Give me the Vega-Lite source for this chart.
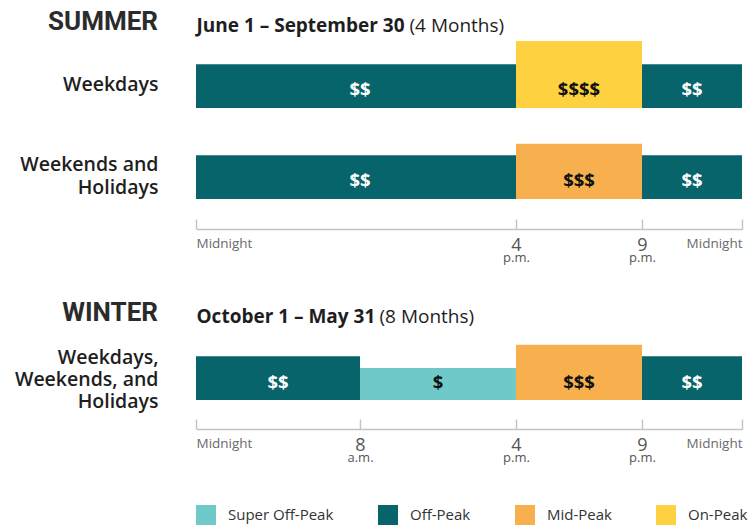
{
  "$schema": "https://vega.github.io/schema/vega-lite/v6.json",
  "background": "white",
  "padding": {"left": 14, "top": 9, "right": 5, "bottom": 0},
  "config": {
    "view": {"stroke": null},
    "font": "Open Sans",
    "axis": {"labelFont": "Open Sans", "titleFont": "Open Sans"},
    "legend": {"labelFont": "Open Sans"},
    "text": {"font": "Open Sans"}
  },
  "datasets": {
    "summerWeekdays": [
      {"period": "Off-Peak", "start": 0, "end": 16, "level": 2, "price": "$$"},
      {"period": "On-Peak", "start": 16, "end": 21, "level": 4, "price": "$$$$"},
      {"period": "Off-Peak", "start": 21, "end": 24, "level": 2, "price": "$$"}
    ],
    "summerWeekends": [
      {"period": "Off-Peak", "start": 0, "end": 16, "level": 2, "price": "$$"},
      {"period": "Mid-Peak", "start": 16, "end": 21, "level": 3, "price": "$$$"},
      {"period": "Off-Peak", "start": 21, "end": 24, "level": 2, "price": "$$"}
    ],
    "winter": [
      {"period": "Off-Peak", "start": 0, "end": 8, "level": 2, "price": "$$"},
      {"period": "Super Off-Peak", "start": 8, "end": 16, "level": 1, "price": "$"},
      {"period": "Mid-Peak", "start": 16, "end": 21, "level": 3, "price": "$$$"},
      {"period": "Off-Peak", "start": 21, "end": 24, "level": 2, "price": "$$"}
    ]
  },
  "spacing": 24,
  "bounds": "flush",
  "resolve": {"scale": {"x": "independent", "y": "independent", "color": "shared"}, "legend": {"color": "independent"}},
  "vconcat": [
    {
      "width": 546, "height": 67,
      "title": {"text": "SUMMER", "anchor": "start", "frame": "group", "align": "right", "dx": -38, "offset": -19, "font": "Roboto", "fontSize": 26, "fontWeight": "bold", "color": "#2b2b2b"},
      "data": {"name": "summerWeekdays"},
      "transform": [{"calculate": "(datum.start + datum.end) / 2", "as": "mid"}],
      "layer": [
        {
          "mark": {"type": "rect"},
          "encoding": {
            "x": {"field": "start", "type": "quantitative",
              "scale": {"type": "linear", "domain": [0, 8, 16, 21, 24], "range": [0, 164, 320, 446, 546], "nice": false, "zero": false},
              "axis": {"orient": "top", "values": [0], "labelExpr": "'June 1 – September 30'", "labelAlign": "left", "labelBaseline": "alphabetic", "labelFontSize": 19, "labelFontWeight": "bold", "labelColor": "#1e1e1e", "labelPadding": 10, "labelLimit": 600, "labelFlush": false, "labelOverlap": false, "domain": false, "ticks": false, "grid": false,
                "title": "(4 Months)", "titleFontSize": 19, "titleFontWeight": "normal", "titleColor": "#1e1e1e", "titleX": 213, "titleY": -10, "titleAlign": "left", "titleBaseline": "alphabetic", "titleAngle": 0}},
            "x2": {"field": "end"},
            "y": {"field": "level", "type": "quantitative",
              "scale": {"type": "linear", "domain": [0, 1, 4], "range": [67, 35, 0], "nice": false, "zero": false},
              "axis": {"orient": "left", "domain": false, "ticks": false, "labels": false, "grid": false, "title": "Weekdays", "titleAngle": 0, "titleAlign": "right", "titleBaseline": "middle", "titleX": -38, "titleY": 43.5, "titleFontSize": 19.5, "titleFontWeight": 600, "titleColor": "#1e1e1e", "titleLineHeight": 23}},
            "y2": {"datum": 0},
            "color": {"field": "period", "type": "nominal",
              "scale": {"domain": ["Super Off-Peak", "Off-Peak", "Mid-Peak", "On-Peak"], "range": ["#6fc9c8", "#07646a", "#f8b04f", "#fdd13f"]},
              "legend": null}
          }
        },
        {
          "transform": [{"filter": "datum.period === 'Off-Peak'"}],
          "mark": {"type": "text", "color": "white", "fontSize": 18.5, "fontWeight": "bold", "baseline": "middle", "dy": -18},
          "encoding": {
            "x": {"field": "mid", "type": "quantitative", "axis": null},
            "y": {"datum": 0, "type": "quantitative", "axis": null},
            "text": {"field": "price"}
          }
        },
        {
          "transform": [{"filter": "datum.period !== 'Off-Peak'"}],
          "mark": {"type": "text", "color": "#111111", "fontSize": 18.5, "fontWeight": "bold", "baseline": "middle", "dy": -18},
          "encoding": {
            "x": {"field": "mid", "type": "quantitative", "axis": null},
            "y": {"datum": 0, "type": "quantitative", "axis": null},
            "text": {"field": "price"}
          }
        }
      ],
      "resolve": {"axis": {"x": "independent", "y": "independent"}}
    },
    {
      "width": 546, "height": 177,
      "data": {"name": "summerWeekends"},
      "transform": [{"calculate": "(datum.start + datum.end) / 2", "as": "mid"}],
      "layer": [
        {
          "mark": {"type": "rect"},
          "encoding": {
            "x": {"field": "start", "type": "quantitative",
              "scale": {"type": "linear", "domain": [0, 8, 16, 21, 24], "range": [0, 164, 320, 446, 546], "nice": false, "zero": false},
              "axis": {"orient": "bottom", "offset": -80, "values": [0, 16, 21, 24], "labelExpr": "datum.value % 24 == 0 ? 'Midnight' : (datum.value > 12 ? datum.value - 12 : datum.value)",
                "tickSize": -10, "tickColor": "#c4c4c4", "tickWidth": 1.5, "domainColor": "#c4c4c4", "domainWidth": 1.5,
                "labelPadding": 17, "labelBaseline": "top", "labelFlush": true, "labelOverlap": false,
                "labelFontSize": {"condition": {"test": "datum.value % 24 == 0", "value": 13.5}, "value": 18},
                "labelColor": {"condition": {"test": "datum.value % 24 == 0", "value": "#6b6b6b"}, "value": "#555555"},
                "grid": false, "title": null}},
            "x2": {"field": "end"},
            "y": {"field": "level", "type": "quantitative",
              "scale": {"type": "linear", "domain": [0, 1, 4], "range": [67, 35, 0], "nice": false, "zero": false},
              "axis": {"orient": "left", "domain": false, "ticks": false, "labels": false, "grid": false, "title": ["Weekends and", "Holidays"], "titleAngle": 0, "titleAlign": "right", "titleBaseline": "middle", "titleX": -38, "titleY": 32.5, "titleFontSize": 19.5, "titleFontWeight": 600, "titleColor": "#1e1e1e", "titleLineHeight": 23}},
            "y2": {"datum": 0},
            "color": {"field": "period", "type": "nominal",
              "scale": {"domain": ["Super Off-Peak", "Off-Peak", "Mid-Peak", "On-Peak"], "range": ["#6fc9c8", "#07646a", "#f8b04f", "#fdd13f"]},
              "legend": null}
          }
        },
        {
          "transform": [{"filter": "datum.period === 'Off-Peak'"}],
          "mark": {"type": "text", "color": "white", "fontSize": 18.5, "fontWeight": "bold", "baseline": "middle", "dy": -18},
          "encoding": {
            "x": {"field": "mid", "type": "quantitative",
              "axis": {"orient": "bottom", "offset": -80, "values": [16, 21], "labelExpr": "datum.value < 12 ? 'a.m.' : 'p.m.'", "domain": false, "ticks": false, "grid": false, "labelPadding": 22.5, "labelBaseline": "top", "labelFontSize": 13, "labelColor": "#555555", "labelFlush": false, "labelOverlap": false, "title": null}},
            "y": {"datum": 0, "type": "quantitative", "axis": null},
            "text": {"field": "price"}
          }
        },
        {
          "transform": [{"filter": "datum.period !== 'Off-Peak'"}],
          "mark": {"type": "text", "color": "#111111", "fontSize": 18.5, "fontWeight": "bold", "baseline": "middle", "dy": -18},
          "encoding": {
            "x": {"field": "mid", "type": "quantitative", "axis": null},
            "y": {"datum": 0, "type": "quantitative", "axis": null},
            "text": {"field": "price"}
          }
        }
      ],
      "resolve": {"axis": {"x": "independent", "y": "independent"}}
    },
    {
      "width": 546, "height": 67,
      "title": {"text": "WINTER", "anchor": "start", "frame": "group", "align": "right", "dx": -38, "offset": -19, "font": "Roboto", "fontSize": 26, "fontWeight": "bold", "color": "#2b2b2b"},
      "data": {"name": "winter"},
      "transform": [{"calculate": "(datum.start + datum.end) / 2", "as": "mid"}],
      "layer": [
        {
          "mark": {"type": "rect"},
          "encoding": {
            "x": {"field": "start", "type": "quantitative",
              "scale": {"type": "linear", "domain": [0, 8, 16, 21, 24], "range": [0, 164, 320, 446, 546], "nice": false, "zero": false},
              "axis": {"orient": "top", "values": [0], "labelExpr": "'October 1 – May 31'", "labelAlign": "left", "labelBaseline": "alphabetic", "labelFontSize": 19, "labelFontWeight": "bold", "labelColor": "#1e1e1e", "labelPadding": 11, "labelLimit": 600, "labelFlush": false, "labelOverlap": false, "domain": false, "ticks": false, "grid": false,
                "title": "(8 Months)", "titleFontSize": 19, "titleFontWeight": "normal", "titleColor": "#1e1e1e", "titleX": 183, "titleY": -11, "titleAlign": "left", "titleBaseline": "alphabetic", "titleAngle": 0}},
            "x2": {"field": "end"},
            "y": {"field": "level", "type": "quantitative",
              "scale": {"type": "linear", "domain": [0, 1, 4], "range": [67, 35, 0], "nice": false, "zero": false},
              "axis": {"orient": "left", "domain": false, "ticks": false, "labels": false, "grid": false, "title": ["Weekdays,", "Weekends, and", "Holidays"], "titleAngle": 0, "titleAlign": "right", "titleBaseline": "middle", "titleX": -38, "titleY": 24, "titleFontSize": 19.5, "titleFontWeight": 600, "titleColor": "#1e1e1e", "titleLineHeight": 22}},
            "y2": {"datum": 0},
            "color": {"field": "period", "type": "nominal",
              "scale": {"domain": ["Super Off-Peak", "Off-Peak", "Mid-Peak", "On-Peak"], "range": ["#6fc9c8", "#07646a", "#f8b04f", "#fdd13f"]},
              "legend": {"orient": "none", "legendX": 0, "legendY": 172, "direction": "horizontal", "title": null, "symbolType": "square", "symbolSize": 400, "symbolStrokeWidth": 0, "symbolOpacity": 1, "labelFontSize": 15, "labelColor": "#333333", "labelOffset": 12, "columnPadding": 44, "padding": 0}}
          }
        },
        {
          "transform": [{"filter": "datum.period === 'Off-Peak'"}],
          "mark": {"type": "text", "color": "white", "fontSize": 18.5, "fontWeight": "bold", "baseline": "middle", "dy": -17},
          "encoding": {
            "x": {"field": "mid", "type": "quantitative",
              "axis": {"orient": "bottom", "offset": 29, "values": [0, 8, 16, 21, 24], "labelExpr": "datum.value % 24 == 0 ? 'Midnight' : (datum.value > 12 ? datum.value - 12 : datum.value)",
                "tickSize": -10, "tickColor": "#c4c4c4", "tickWidth": 1.5, "domainColor": "#c4c4c4", "domainWidth": 1.5,
                "labelPadding": 17, "labelBaseline": "top", "labelFlush": true, "labelOverlap": false,
                "labelFontSize": {"condition": {"test": "datum.value % 24 == 0", "value": 13.5}, "value": 18},
                "labelColor": {"condition": {"test": "datum.value % 24 == 0", "value": "#6b6b6b"}, "value": "#555555"},
                "grid": false, "title": null}},
            "y": {"datum": 0, "type": "quantitative", "axis": null},
            "text": {"field": "price"}
          }
        },
        {
          "transform": [{"filter": "datum.period !== 'Off-Peak'"}],
          "mark": {"type": "text", "color": "#111111", "fontSize": 18.5, "fontWeight": "bold", "baseline": "middle", "dy": -17},
          "encoding": {
            "x": {"field": "mid", "type": "quantitative",
              "axis": {"orient": "bottom", "offset": 29, "values": [8, 16, 21], "labelExpr": "datum.value < 12 ? 'a.m.' : 'p.m.'", "domain": false, "ticks": false, "grid": false, "labelPadding": 22.5, "labelBaseline": "top", "labelFontSize": 13, "labelColor": "#555555", "labelFlush": false, "labelOverlap": false, "title": null}},
            "y": {"datum": 0, "type": "quantitative", "axis": null},
            "text": {"field": "price"}
          }
        }
      ],
      "resolve": {"axis": {"x": "independent", "y": "independent"}}
    }
  ]
}
